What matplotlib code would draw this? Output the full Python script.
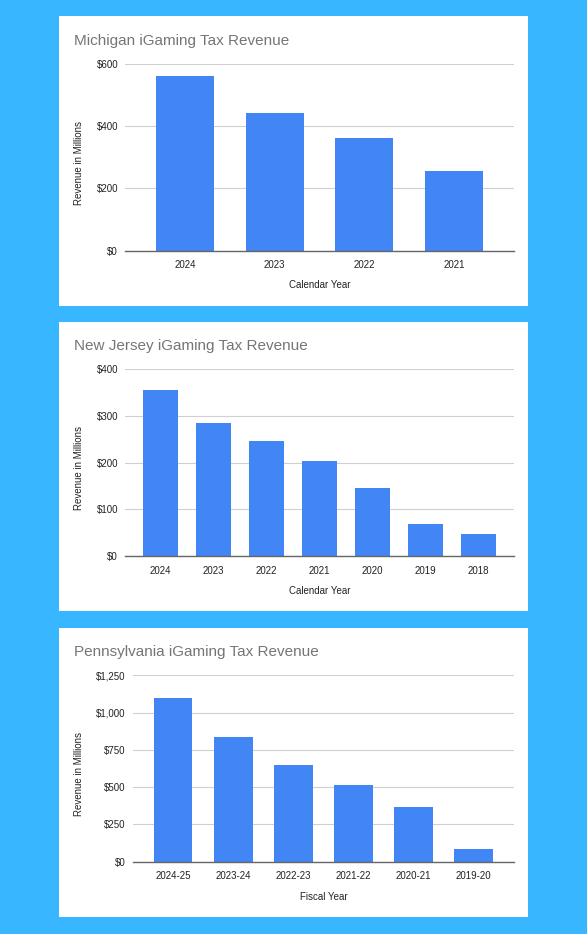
import matplotlib
matplotlib.use("Agg")
import matplotlib.pyplot as plt
from matplotlib.patches import Rectangle
from matplotlib.ticker import FuncFormatter

plt.rcParams['font.family'] = ['Liberation Sans', 'DejaVu Sans']

# ---- data ----
mi_years = ["2024", "2023", "2022", "2021"]
mi_revenue = [562, 441, 363, 256]

nj_years = ["2024", "2023", "2022", "2021", "2020", "2019", "2018"]
nj_revenue = [356, 286, 247, 204, 145, 69, 48]

pa_years = ["2024-25", "2023-24", "2022-23", "2021-22", "2020-21", "2019-20"]
pa_revenue = [1096, 839, 651, 514, 365, 87]

titles = ["Michigan iGaming Tax Revenue", "New Jersey iGaming Tax Revenue",
          "Pennsylvania iGaming Tax Revenue"]
xlabels = ["Calendar Year", "Calendar Year", "Fiscal Year"]
ylabel = "Revenue in Millions"

W, H = 587, 934
fig = plt.figure(figsize=(W / 100, H / 100), dpi=100)
fig.patch.set_facecolor('#38b6ff')

def fx(x):
    return x / W

def fy(y):
    return 1 - y / H

BAR = '#4285f4'

panels = [
    dict(cats=mi_years, vals=mi_revenue, ymax=600, step=200,
         panel=(59, 16, 528, 306), ax=(125, 64, 514, 250.7),
         title_y=40.7, xlab_y=285.3, ylab_y=162.7),
    dict(cats=nj_years, vals=nj_revenue, ymax=400, step=100,
         panel=(59, 322, 528, 611), ax=(125, 369.3, 514, 556),
         title_y=346, xlab_y=591, ylab_y=468),
    dict(cats=pa_years, vals=pa_revenue, ymax=1250, step=250,
         panel=(59, 628, 528, 916.5), ax=(132.7, 675.3, 514, 861.7),
         title_y=651.7, xlab_y=896.7, ylab_y=774),
]

for i, p in enumerate(panels):
    x0, y0, x1, y1 = p['panel']
    fig.patches.append(Rectangle((fx(x0), fy(y1)), fx(x1) - fx(x0), fy(y0) - fy(y1),
                                 transform=fig.transFigure, facecolor='white',
                                 edgecolor='none', zorder=-1))
    ax0, ay0, ax1, ay1 = p['ax']
    ax = fig.add_axes([fx(ax0), fy(ay1), fx(ax1) - fx(ax0), fy(ay0) - fy(ay1)])
    ax.set_zorder(2)
    ax.set_facecolor('white')
    n = len(p['cats'])
    xs = list(range(n))
    ax.bar(xs, p['vals'], width=0.645, color=BAR, edgecolor='none', zorder=3)
    ax.set_xlim(-0.67, n - 1 + 0.67)
    ax.set_ylim(0, p['ymax'])
    ax.set_yticks(list(range(0, p['ymax'] + 1, p['step'])))
    ax.yaxis.set_major_formatter(FuncFormatter(lambda v, pos: "${:,.0f}".format(v)))
    ax.set_xticks(xs)
    ax.set_xticklabels(p['cats'])
    ax.grid(axis='y', color='#d0d0d0', linewidth=0.8, zorder=0)
    ax.set_axisbelow(True)
    for s in ['top', 'right', 'left']:
        ax.spines[s].set_visible(False)
    ax.spines['bottom'].set_color('#666666')
    ax.spines['bottom'].set_linewidth(1.0)
    ax.spines['bottom'].set_zorder(4)
    ax.tick_params(axis='both', length=0, labelsize=7, labelcolor='#222222')
    ax.tick_params(axis='x', pad=7)
    ax.tick_params(axis='y', pad=5)
    fig.text(fx(74), fy(p['title_y']), titles[i], fontsize=11, color='#757575',
             ha='left', va='center', zorder=5)
    fig.text(fx((ax0 + ax1) / 2), fy(p['xlab_y']), xlabels[i], fontsize=7,
             color='#222222', ha='center', va='center', zorder=5)
    fig.text(fx(79), fy(p['ylab_y']), ylabel, fontsize=7, color='#222222',
             ha='center', va='center', rotation=90, zorder=5)

fig.savefig('out.png', dpi=100, facecolor=fig.get_facecolor())
